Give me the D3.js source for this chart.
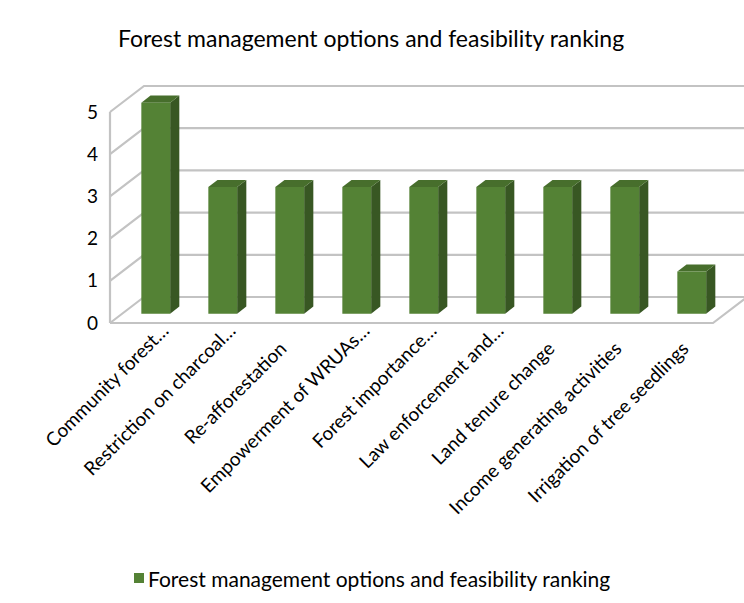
<!DOCTYPE html>
<html>
<head>
<meta charset="utf-8">
<script src="https://cdn.jsdelivr.net/npm/d3@7"></script>
<style>
  html, body { margin: 0; padding: 0; background: #fff; }
  svg { display: block; font-family: Lato, "Open Sans", sans-serif; }
</style>
</head>
<body>
<svg id="chart" width="744" height="603"></svg>
<script>
const title = "Forest management options and feasibility ranking";
const seriesName = "Forest management options and feasibility ranking";
const categories = [
  "Community forest…",
  "Restriction on charcoal…",
  "Re-afforestation",
  "Empowerment of WRUAs…",
  "Forest importance…",
  "Law enforcement and…",
  "Land tenure change",
  "Income generating activities",
  "Irrigation of tree seedlings"
];
const values = [5, 3, 3, 3, 3, 3, 3, 3, 1];
const yTicks = [0, 1, 2, 3, 4, 5];

const svg = d3.select("#chart");

const x0 = 110, x1 = 713;
const DX = 34, DY = -26;
const x = d3.scaleBand().domain(categories).range([x0, x1]).paddingInner(0.57).paddingOuter(0.285);
const y = d3.scaleLinear().domain([0, 5]).range([323, 112]);
const proj = (px, py, d) => [px + DX * d, py + DY * d];

const gridColor = "#c3c3c3";
const grid = svg.append("g").attr("stroke", gridColor).attr("stroke-width", 2.2).attr("fill", "none");
yTicks.forEach(t => {
  const a = proj(x0, y(t), 0), b = proj(x0, y(t), 1), c = proj(x1 + 40, y(t), 1);
  grid.append("polyline").attr("points", [a, b, c].map(p => p.join(",")).join(" "));
});
grid.append("line").attr("x1", x0).attr("y1", y(0)).attr("x2", x0).attr("y2", y(5));
{
  const a = proj(x0, y(0), 0), b = proj(x1, y(0), 0), c = proj(x1, y(0), 1);
  grid.append("polyline").attr("points", [a, b, c].map(p => p.join(",")).join(" "));
}

const d0 = 0.36, dd = 0.27;
const cFront = "#548235", cSide = "#385723", cTop = "#476e2c";
const bars = svg.append("g");
categories.forEach((cat, i) => {
  const v = values[i];
  const xl = x(cat), xr = x(cat) + x.bandwidth();
  const yb = y(0), yt = y(v);
  const FL = proj(xl, yt, d0), FR = proj(xr, yt, d0), FBR = proj(xr, yb, d0), FBL = proj(xl, yb, d0);
  const BL = proj(xl, yt, d0 + dd), BR = proj(xr, yt, d0 + dd), BBR = proj(xr, yb, d0 + dd);
  const pts = a => a.map(p => p.join(",")).join(" ");
  bars.append("polygon").attr("points", pts([FR, BR, BBR, FBR])).attr("fill", cSide);
  bars.append("polygon").attr("points", pts([FL, BL, BR, FR])).attr("fill", cTop);
  bars.append("polygon").attr("points", pts([FL, FR, FBR, FBL])).attr("fill", cFront);
});

svg.append("g").selectAll("text").data(yTicks).join("text")
  .attr("x", 98).attr("y", d => y(d) - 1)
  .attr("text-anchor", "end").attr("dominant-baseline", "central")
  .attr("font-size", 19).attr("fill", "#000")
  .text(d => d);

svg.append("g").selectAll("text").data(categories).join("text")
  .attr("transform", d => {
    const cx = proj(x(d) + x.bandwidth() / 2, y(0), d0)[0];
    const trunc = d.endsWith("…");
    const ax = trunc ? cx + 14 : cx - 2;
    const ay = trunc ? 332 : 350;
    return `translate(${ax},${ay}) rotate(-45)`;
  })
  .attr("text-anchor", "end")
  .attr("font-size", 19).attr("fill", "#000")
  .text(d => d);

svg.append("text").attr("x", 371).attr("y", 47).attr("text-anchor", "middle")
  .attr("font-size", 23).attr("fill", "#000").text(title);

const lg = svg.append("g");
lg.append("rect").attr("x", 134).attr("y", 573).attr("width", 10).attr("height", 10).attr("fill", cFront);
lg.append("text").attr("x", 148).attr("y", 578).attr("dominant-baseline", "central")
  .attr("font-size", 21).attr("fill", "#000").text(seriesName);
</script>
</body>
</html>
